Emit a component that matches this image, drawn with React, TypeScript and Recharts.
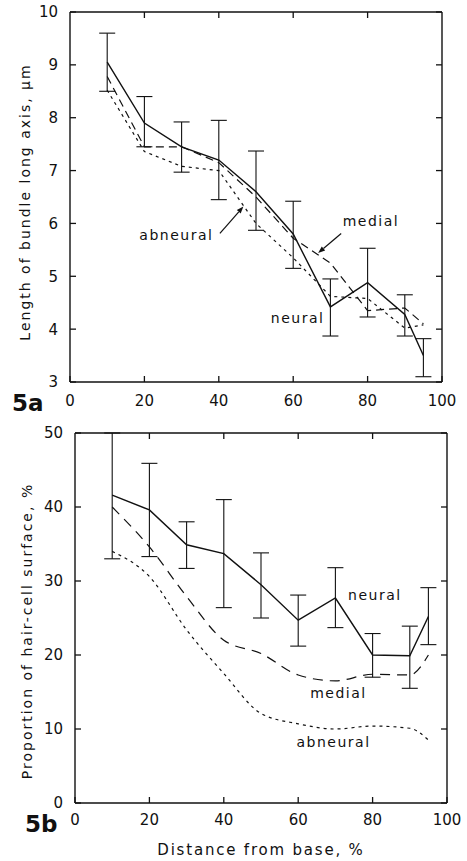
import React from "react";
import {
  LineChart,
  Line,
  XAxis,
  YAxis,
  ErrorBar,
  ReferenceDot,
  ReferenceLine,
} from "recharts";

// distance from base, %
const positions = [10, 20, 30, 40, 50, 60, 70, 80, 90, 95];

// 5a: length of bundle long axis, um
const lenNeural = [9.05, 7.9, 7.45, 7.2, 6.6, 5.8, 4.42, 4.88, 4.28, 3.5];
const lenNeuralLow = [8.5, 7.45, 6.97, 6.45, 5.87, 5.15, 3.87, 4.23, 3.87, 3.1];
const lenNeuralHigh = [9.6, 8.4, 7.92, 7.95, 7.37, 6.42, 4.95, 5.53, 4.65, 3.82];
const lenMedial = [8.78, 7.45, 7.45, 7.15, 6.5, 5.72, 5.25, 4.35, 4.4, 4.1];
const lenAbneural = [8.52, 7.36, 7.08, 7.0, 6.0, 5.35, 4.62, 4.58, 4.02, 4.08];

// 5b: proportion of hair-cell surface, %
const propNeural = [41.6, 39.6, 34.9, 33.7, 29.5, 24.7, 27.7, 20.0, 19.9, 25.2];
const propNeuralLow = [33.0, 33.3, 31.7, 26.4, 25.0, 21.2, 23.7, 17.0, 15.5, 21.4];
const propNeuralHigh = [50, 45.9, 38.0, 41.0, 33.8, 28.1, 31.8, 22.9, 23.9, 29.1];
const propMedial = [40.0, 34.6, 27.9, 22.0, 20.2, 17.3, 16.5, 17.4, 17.3, 20.0];
const propAbneural = [34.0, 30.6, 23.4, 17.5, 12.1, 10.7, 10.0, 10.4, 10.1, 8.5];

const xTicks = [0, 20, 40, 60, 80, 100];
const xInnerTicks = [20, 40, 60, 80];
const lenTicks = [3, 4, 5, 6, 7, 8, 9, 10];
const propTicks = [0, 10, 20, 30, 40, 50];

const FONT = "DejaVu Sans";
const INK = "#111";
const TICK = 6;

const build = (neural, low, high, medial, abneural) =>
  positions.map((x, i) => ({
    x,
    neural: neural[i],
    err: [neural[i] - low[i], high[i] - neural[i]],
    medial: medial[i],
    abneural: abneural[i],
  }));

const lenData = build(lenNeural, lenNeuralLow, lenNeuralHigh, lenMedial, lenAbneural);
const propData = build(propNeural, propNeuralLow, propNeuralHigh, propMedial, propAbneural);

// inward tick marks + labels, drawn from the tick position recharts hands over
const BottomTick = (gap: number) => (p: any) => {
  const base = p.y - gap;
  return (
    <g>
      <line x1={p.x} x2={p.x} y1={base} y2={base - TICK} stroke={INK} strokeWidth={1.3} />
      <text x={p.x} y={p.y} dy="0.71em" textAnchor="middle" fontFamily={FONT} fontSize={15} fill={INK}>
        {p.payload.value}
      </text>
    </g>
  );
};

const LeftTick = (gap: number) => (p: any) => {
  const base = p.x + gap;
  return (
    <g>
      <line x1={base} x2={base + TICK} y1={p.y} y2={p.y} stroke={INK} strokeWidth={1.3} />
      <text x={p.x - 6} y={p.y} dy="0.36em" textAnchor="end" fontFamily={FONT} fontSize={15} fill={INK}>
        {p.payload.value}
      </text>
    </g>
  );
};

const TopTick = (p: any) => (
  <line x1={p.x} x2={p.x} y1={p.y} y2={p.y + TICK} stroke={INK} strokeWidth={1.3} />
);

const RightTick = (p: any) => (
  <line x1={p.x} x2={p.x - TICK} y1={p.y} y2={p.y} stroke={INK} strokeWidth={1.3} />
);

const word = (text: string) => (props: any) => (
  <text
    x={props.cx}
    y={props.cy}
    textAnchor="middle"
    dominantBaseline="central"
    fontFamily={FONT}
    fontSize={14}
    letterSpacing={1.5}
    fill={INK}
  >
    {text}
  </text>
);

const Arrow = (props: any) => {
  const { x1, y1, x2, y2 } = props;
  const a = Math.atan2(y2 - y1, x2 - x1);
  const L = 7;
  const W = 2.6;
  const bx = x2 - L * Math.cos(a);
  const by = y2 - L * Math.sin(a);
  const px = -Math.sin(a) * W;
  const py = Math.cos(a) * W;
  return (
    <g>
      <line x1={x1} y1={y1} x2={bx} y2={by} stroke={INK} strokeWidth={1.2} />
      <polygon points={`${x2},${y2} ${bx + px},${by + py} ${bx - px},${by - py}`} fill={INK} />
    </g>
  );
};

const yTitle = (text: string, dx: number, dy: number) => (props: any) => {
  const vb = props.viewBox;
  const x = vb.x + dx;
  const y = vb.y + vb.height / 2 + dy;
  return (
    <text
      x={x}
      y={y}
      transform={`rotate(-90 ${x} ${y})`}
      textAnchor="middle"
      dominantBaseline="central"
      fontFamily={FONT}
      fontSize={14}
      letterSpacing={2}
      fill={INK}
    >
      {text}
    </text>
  );
};

const panelTag = (tag: string, dx: number, dy: number, title?: string) => (props: any) => {
  const vb = props.viewBox;
  return (
    <g>
      <text x={vb.x + dx} y={vb.y + dy} fontFamily={FONT} fontWeight="bold" fontSize={23} fill={INK}>
        {tag}
      </text>
      {title && (
        <text
          x={vb.x + vb.width / 2}
          y={vb.y + 52}
          textAnchor="middle"
          fontFamily={FONT}
          fontSize={15}
          letterSpacing={1.8}
          fill={INK}
        >
          {title}
        </text>
      )}
    </g>
  );
};

function Frame({ ticks, domain }) {
  return [
    <XAxis
      key="xt"
      xAxisId="top"
      orientation="top"
      type="number"
      dataKey="x"
      domain={[0, 100]}
      ticks={xInnerTicks}
      interval={0}
      allowDataOverflow
      height={2}
      tickSize={0}
      tickMargin={0}
      tickLine={false}
      tick={TopTick}
      stroke={INK}
      strokeWidth={1.4}
    />,
    <YAxis
      key="yr"
      yAxisId="right"
      orientation="right"
      type="number"
      domain={domain}
      ticks={ticks}
      interval={0}
      allowDataOverflow
      width={2}
      tickSize={0}
      tickMargin={0}
      tickLine={false}
      tick={RightTick}
      stroke={INK}
      strokeWidth={1.4}
    />,
  ];
}

function LengthChart() {
  return (
    <LineChart
      width={467}
      height={420}
      data={lenData}
      margin={{ top: 10, right: 23, bottom: 8, left: 0 }}
    >
      <XAxis
        type="number"
        dataKey="x"
        domain={[0, 100]}
        ticks={xTicks}
        interval={0}
        allowDataOverflow
        height={30}
        tickSize={0}
        tickMargin={13}
        tickLine={false}
        tick={BottomTick(13)}
        stroke={INK}
        strokeWidth={1.4}
        label={panelTag("5a", -58, 29)}
      />
      <YAxis
        type="number"
        domain={[3, 10]}
        ticks={lenTicks}
        interval={0}
        allowDataOverflow
        width={70}
        tickSize={0}
        tickMargin={6}
        tickLine={false}
        tick={LeftTick(6)}
        stroke={INK}
        strokeWidth={1.4}
        label={yTitle("Length of bundle long axis, \u03bcm", 25, 5)}
      />
      {Frame({ ticks: lenTicks, domain: [3, 10] })}
      <Line
        dataKey="abneural"
        stroke={INK}
        strokeWidth={1.2}
        strokeDasharray="3 4"
        dot={false}
        isAnimationActive={false}
      />
      <Line
        dataKey="medial"
        stroke={INK}
        strokeWidth={1.2}
        strokeDasharray="8 5"
        dot={false}
        isAnimationActive={false}
      />
      <Line
        dataKey="neural"
        stroke={INK}
        strokeWidth={1.4}
        dot={false}
        isAnimationActive={false}
      >
        <ErrorBar dataKey="err" width={8} stroke={INK} strokeWidth={1.1} direction="y" />
      </Line>
      <ReferenceDot x={80.9} y={6.05} r={0} shape={word("medial")} />
      <ReferenceDot x={28.6} y={5.78} r={0} shape={word("abneural")} />
      <ReferenceDot x={61.2} y={4.21} r={0} shape={word("neural")} />
      <ReferenceLine
        segment={[
          { x: 72.9, y: 5.81 },
          { x: 66.7, y: 5.44 },
        ]}
        shape={Arrow}
      />
      <ReferenceLine
        segment={[
          { x: 40.3, y: 5.81 },
          { x: 46.6, y: 6.32 },
        ]}
        shape={Arrow}
      />
    </LineChart>
  );
}

function ProportionChart() {
  return (
    <LineChart
      width={467}
      height={441}
      data={propData}
      margin={{ top: 11, right: 18, bottom: 2, left: 0 }}
    >
      <XAxis
        type="number"
        dataKey="x"
        domain={[0, 100]}
        ticks={xTicks}
        interval={0}
        allowDataOverflow
        height={56}
        tickSize={0}
        tickMargin={11}
        tickLine={false}
        tick={BottomTick(11)}
        stroke={INK}
        strokeWidth={1.4}
        label={panelTag("5b", -50, 29, "Distance from base, %")}
      />
      <YAxis
        type="number"
        domain={[0, 50]}
        ticks={propTicks}
        interval={0}
        allowDataOverflow
        width={75}
        tickSize={0}
        tickMargin={6}
        tickLine={false}
        tick={LeftTick(6)}
        stroke={INK}
        strokeWidth={1.4}
        label={yTitle("Proportion of hair-cell surface, %", 27, 13)}
      />
      {Frame({ ticks: propTicks, domain: [0, 50] })}
      <Line
        type="monotone"
        dataKey="abneural"
        stroke={INK}
        strokeWidth={1.2}
        strokeDasharray="3 4"
        dot={false}
        isAnimationActive={false}
      />
      <Line
        type="monotone"
        dataKey="medial"
        stroke={INK}
        strokeWidth={1.2}
        strokeDasharray="10 7"
        dot={false}
        isAnimationActive={false}
      />
      <Line
        dataKey="neural"
        stroke={INK}
        strokeWidth={1.4}
        dot={false}
        isAnimationActive={false}
      >
        <ErrorBar dataKey="err" width={8} stroke={INK} strokeWidth={1.1} direction="y" />
      </Line>
      <ReferenceDot x={80.6} y={28.1} r={0} shape={word("neural")} />
      <ReferenceDot x={70.8} y={14.9} r={0} shape={word("medial")} />
      <ReferenceDot x={69.5} y={8.2} r={0} shape={word("abneural")} />
    </LineChart>
  );
}

export default function App() {
  return (
    <div
      style={{
        position: "absolute",
        left: 0,
        top: 0,
        width: 467,
        height: 861,
        background: "#fff",
      }}
    >
      <LengthChart />
      <ProportionChart />
    </div>
  );
}
